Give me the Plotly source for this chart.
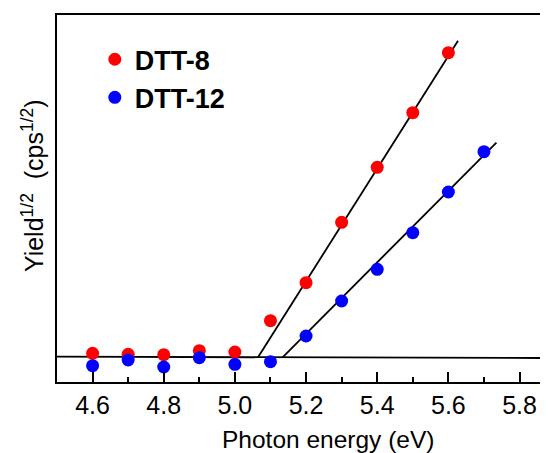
import plotly.graph_objects as go

# Data (arbitrary units for Yield^1/2)
energy_dtt8 = [4.6, 4.7, 4.8, 4.9, 5.0, 5.1, 5.2, 5.3, 5.4, 5.5, 5.6]
yield_dtt8 = [28.7, 27.7, 27.3, 31.3, 30.0, 61.3, 99.3, 159.7, 214.7, 269.3, 329.3]

energy_dtt12 = [4.6, 4.7, 4.8, 4.9, 5.0, 5.1, 5.2, 5.3, 5.4, 5.5, 5.6, 5.7]
yield_dtt12 = [16.3, 22.0, 15.0, 24.3, 17.7, 20.3, 46.0, 81.0, 112.7, 149.3, 190.0, 230.3]

# Linear fit lines (endpoints)
fit8_x = [5.065, 5.627]
fit8_y = [24.7, 341.3]
fit12_x = [5.134, 5.735]
fit12_y = [24.7, 239.3]
base_x = [4.5, 5.88]
base_y = [25.3, 24.0]

tick_vals = [4.6, 4.8, 5.0, 5.2, 5.4, 5.6, 5.8]
tick_text = ["4.6", "4.8", "5.0", "5.2", "5.4", "5.6", "5.8"]

FONT = "Liberation Sans, Arial, sans-serif"

fig = go.Figure()
for fx, fy in [(base_x, base_y), (fit8_x, fit8_y), (fit12_x, fit12_y)]:
    fig.add_trace(go.Scatter(x=fx, y=fy, mode="lines",
                             line=dict(color="black", width=1.8),
                             showlegend=False, hoverinfo="skip"))

fig.add_trace(go.Scatter(x=energy_dtt8, y=yield_dtt8, mode="markers", name="DTT-8",
                         marker=dict(color="#ff0000", size=13)))
fig.add_trace(go.Scatter(x=energy_dtt12, y=yield_dtt12, mode="markers", name="DTT-12",
                         marker=dict(color="#0000ff", size=13)))

fig.update_layout(
    width=548, height=453,
    margin=dict(l=49, r=8, t=7, b=79, autoexpand=False),
    paper_bgcolor="white", plot_bgcolor="white",
    font=dict(family=FONT, color="black"),
    showlegend=True,
    legend=dict(x=0.077, y=0.945, xanchor="left", yanchor="top",
                font=dict(family=FONT, size=27, color="black", weight="bold"),
                bgcolor="rgba(0,0,0,0)", itemsizing="trace", tracegroupgap=4),
    xaxis=dict(range=[4.5, 5.88], showline=True, linecolor="black", linewidth=2,
               mirror=True, ticks="inside", ticklen=10, tickwidth=2, tickcolor="black",
               tickvals=tick_vals, ticktext=tick_text, automargin=False,
               tickfont=dict(family=FONT, size=25, color="black"),
               minor=dict(ticks="inside", ticklen=5, tickwidth=2, tickcolor="black", dtick=0.1, tick0=4.5),
               showgrid=False, zeroline=False),
    yaxis=dict(range=[0, 367], showline=True, linecolor="black", linewidth=2, automargin=False,
               showticklabels=False, ticks="", showgrid=False, zeroline=False),
    annotations=[
        dict(text="Yield<sup>1/2</sup>  (cps<sup>1/2</sup>)", textangle=-90,
             xref="paper", yref="paper", x=-0.05, y=0.535,
             xanchor="center", yanchor="middle", showarrow=False,
             font=dict(family=FONT, size=25, color="black")),
        dict(text="Photon energy (eV)",
             xref="paper", yref="paper", x=0.552, y=-0.158,
             xanchor="center", yanchor="middle", showarrow=False,
             font=dict(family=FONT, size=24.5, color="black")),
    ],
)

fig.write_html("out.html")
